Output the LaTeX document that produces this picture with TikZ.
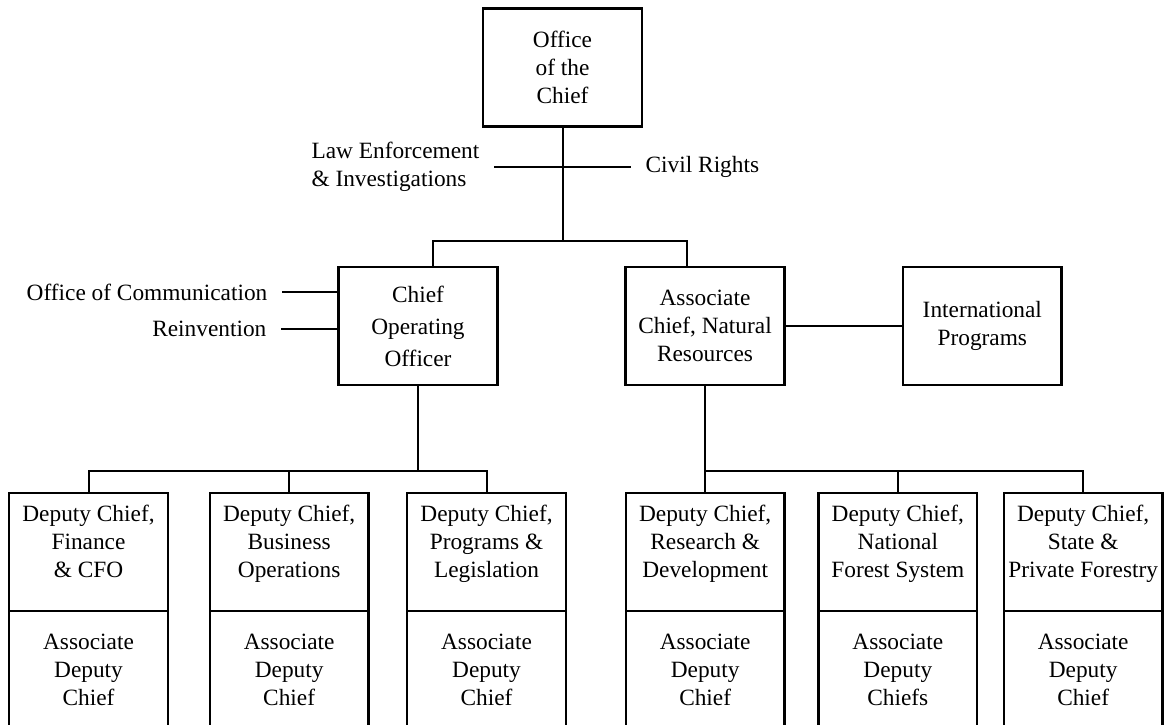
\documentclass[tikz,border=0pt]{standalone}
\usepackage{fontspec}
\setmainfont{Liberation Serif}
\usetikzlibrary{positioning,calc}
\newcommand\orgfont{\fontsize{17.5}{21}\selectfont}

\begin{document}
\begin{tikzpicture}[x=0.75pt,y=-0.75pt,
  box/.style={draw,line width=1.8pt,minimum width=119pt,minimum height=88.5pt,
              inner sep=0pt,outer sep=0pt,align=center,font=\orgfont},
  dep/.style={box,text height=63pt,text depth=25.5pt,anchor=north},
  adep/.style={box,minimum height=0pt,text height=70.5pt,text depth=27pt},
  lbl/.style={inner sep=0pt,outer xsep=11pt,align=left,font=\orgfont},
  ln/.style={line width=1.5pt}
]
  \clip (0,0) rectangle (1168,725);
  % top of the chart
  \node[box] (chief) at (562.5,67.5) {Office\\of the\\Chief};
  \node[box] (coo) at (418,326) {Chief\\[3pt]Operating\\[3pt]Officer};
  \node[box] (assoc) at (705,326) {Associate\\Chief, Natural\\Resources};
  \node[box,right=89pt of assoc] (intl) {International\\Programs};
  \coordinate (crossL) at (494,167);
  \coordinate (crossR) at (631,167);
  \node[lbl,left=0pt of crossL] (law) {Law Enforcement\\\& Investigations};
  \node[lbl,right=0pt of crossR] (civil) {Civil Rights};
  \node[lbl,anchor=east] (comm) at (282,292) {Office of Communication};
  \node[lbl,anchor=east] (reinv) at (281,329) {Reinvention};
  % deputy chiefs
  \node[dep] (dfin) at (88.5,493) {Deputy Chief,\\Finance\\\& CFO};
  \node[dep,right=31.5pt of dfin] (dbus) {Deputy Chief,\\Business\\Operations};
  \node[dep,right=29pt of dbus] (dprog) {Deputy Chief,\\Programs \&\\Legislation};
  \node[dep,right=45pt of dprog] (dres) {Deputy Chief,\\Research \&\\Development};
  \node[dep,right=25.5pt of dres] (dnfs) {Deputy Chief,\\National\\Forest System};
  \node[dep,right=20pt of dnfs] (dstate) {Deputy Chief,\\State \&\\Private Forestry};
  \node[adep,below=0pt of dfin] (afin) {Associate\\Deputy\\Chief};
  \node[adep,below=0pt of dbus] (abus) {Associate\\Deputy\\Chief};
  \node[adep,below=0pt of dprog] (aprog) {Associate\\Deputy\\Chief};
  \node[adep,below=0pt of dres] (ares) {Associate\\Deputy\\Chief};
  \node[adep,below=0pt of dnfs] (anfs) {Associate\\Deputy\\Chiefs};
  \node[adep,below=0pt of dstate] (astate) {Associate\\Deputy\\Chief};
  % connectors
  \draw[ln] (chief.south) -- ++(0,114) coordinate (busT);
  \draw[ln] ([xshift=11pt]coo.north) |- (busT) -| ([xshift=-13.5pt]assoc.north);
  \draw[ln] (law) -- (civil);
  \draw[ln] (comm.east) -- (comm.east -| coo.west);
  \draw[ln] (reinv.east) -- (reinv.east -| coo.west);
  \draw[ln] (assoc) -- (intl);
  \draw[ln] (coo.south) -- ++(0,86) coordinate (busL);
  \draw[ln] (dfin.north) |- (busL) -| (dprog.north);
  \draw[ln] (dbus.north) -- (dbus.north |- busL);
  \draw[ln] (assoc.south) -- ++(0,86) coordinate (busR);
  \draw[ln] (dres.north) |- (busR) -| (dstate.north);
  \draw[ln] (dnfs.north) -- (dnfs.north |- busR);
\end{tikzpicture}
\end{document}
